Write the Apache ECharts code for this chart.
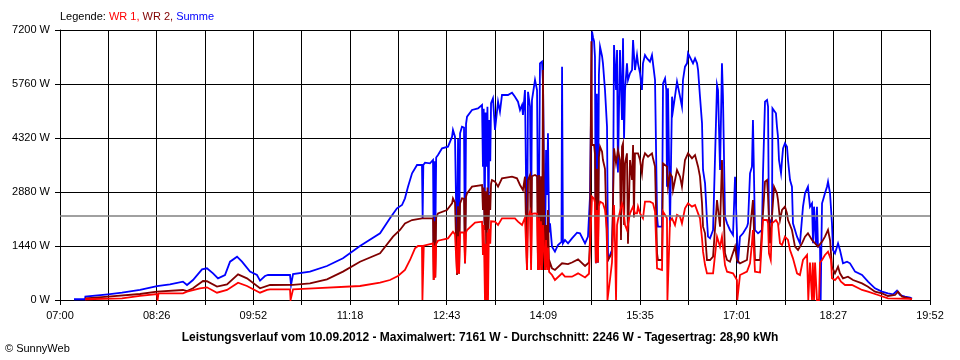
<!DOCTYPE html>
<html>
<head>
<meta charset="utf-8">
<script src="https://cdn.jsdelivr.net/npm/echarts@6/dist/echarts.min.js"></script>
<style>
html,body{margin:0;padding:0;background:#fff;}
#chart{width:960px;height:360px;}
</style>
</head>
<body>
<div id="chart"></div>
<script>
// x values: minutes after 07:00 ; y values: W
const xTickLabels = ['07:00','08:26','09:52','11:18','12:43','14:09','15:35','17:01','18:27','19:52'];
const X_MAX = 772;       // 07:00 -> 19:52
const Y_MAX = 7200;
const Y_STEP = 1440;
const AVERAGE = 2246;

const legendText = ['Legende: ', 'WR 1, ', 'WR 2, ', 'Summe'];
const footerText = 'Leistungsverlauf vom 10.09.2012 - Maximalwert: 7161 W - Durchschnitt: 2246 W - Tagesertrag: 28,90 kWh';
const copyrightText = '© SunnyWeb';

const summe = [[12.4,20],[22.2,20],[22.5,90],[42.6,150],[55.0,195],[71.0,267],[86.1,373],[97.6,418],[109.1,489],[112.7,400],[118.0,533],[126.0,818],[130.4,845],[135.8,711],[140.2,578],[146.4,667],[150.9,1022],[157.1,1156],[161.5,1022],[168.6,756],[174.8,667],[177.5,516],[181.9,640],[184.6,667],[204.1,667],[205.0,400],[206.8,693],[221.8,756],[236.9,907],[251.1,1111],[266.2,1440],[284.0,1778],[292.8,2178],[299.0,2444],[303.5,2533],[306.1,2711],[308.8,3022],[312.4,3378],[316.8,3600],[321.2,3600],[321.8,2178],[322.4,3600],[323.9,3662],[328.3,3644],[331.0,3733],[331.6,1422],[332.4,3700],[333.0,1500],[333.8,3800],[335.4,3867],[339.0,4044],[344.3,4089],[347.9,4356],[348.7,4533],[350.5,4356],[352.3,1067],[353.2,4300],[354.1,1100],[355.0,4444],[356.7,4622],[358.5,4600],[359.4,978],[360.3,4700],[361.2,4889],[365.6,5067],[370.9,5111],[374.5,5200],[375.3,3556],[376.0,5100],[376.8,2044],[377.6,5000],[378.4,3556],[379.3,5150],[380.2,2200],[381.0,4800],[381.8,3700],[382.5,5250],[383.3,5289],[384.2,5378],[386.0,4533],[388.7,5289],[390.4,5022],[392.2,5467],[397.5,5467],[401.1,5529],[403.7,5422],[406.4,5289],[408.2,5067],[410.0,5200],[410.8,4933],[412.6,5600],[413.5,5650],[414.4,1067],[415.3,5550],[417.1,5156],[418.0,1778],[418.8,5333],[421.5,5867],[423.3,5600],[424.2,2000],[425.1,2844],[425.9,6311],[427.7,6356],[428.6,5800],[430.4,1067],[431.3,4000],[432.2,2800],[433.0,4444],[434.0,1800],[434.8,2044],[436.6,1422],[439.2,1289],[441.9,1467],[445.0,1550],[445.5,6222],[446.3,1511],[448.1,1600],[450.8,1511],[454.3,1644],[458.8,1796],[461.4,1778],[465.9,1511],[468.5,1689],[470.3,2756],[472.1,7161],[473.0,7000],[473.9,6900],[474.7,6489],[475.5,978],[476.4,5500],[477.3,1000],[478.2,6000],[479.2,6756],[481.0,6500],[481.8,6311],[483.6,5600],[485.4,4622],[486.3,1067],[488.0,1100],[489.8,1333],[490.7,2311],[491.6,6800],[493.4,5600],[494.3,6667],[495.1,3400],[496.9,6667],[498.7,4800],[499.6,6978],[500.5,4300],[501.4,5600],[503.1,6311],[504.0,5867],[505.8,6044],[507.6,6133],[508.5,6933],[510.2,6133],[512.0,6533],[512.9,6311],[514.7,6044],[516.4,5600],[517.3,6311],[519.1,6533],[520.9,6444],[521.8,6489],[523.5,6356],[525.3,6533],[526.2,6311],[528.0,5867],[529.8,2222],[530.6,1956],[534.2,1956],[535.1,5778],[536.9,5911],[538.0,5600],[538.6,3022],[539.5,5644],[541.3,1956],[543.1,5422],[544.0,5067],[545.7,5422],[547.5,5822],[548.4,5778],[550.2,5422],[551.9,5156],[552.8,5867],[554.6,6222],[556.4,6311],[557.3,6578],[559.0,6533],[561.7,6311],[563.5,6444],[565.3,6311],[566.2,6133],[567.9,5422],[569.7,4711],[570.6,3467],[572.4,3111],[574.1,2133],[575.0,1689],[576.8,1644],[579.5,1867],[581.2,1911],[583.0,5733],[583.9,5600],[585.7,3467],[587.4,6311],[588.3,5422],[590.1,2222],[591.9,2044],[594.5,1867],[597.2,1733],[599.0,3289],[600.7,1778],[601.6,978],[603.4,1689],[606.1,1778],[609.6,1956],[610.5,2044],[612.3,3378],[614.0,3556],[614.9,4800],[616.7,1867],[619.4,1778],[622.9,1867],[623.8,3378],[625.6,5289],[627.4,5333],[628.3,5156],[629.1,1867],[630.0,2133],[631.8,2044],[632.2,5111],[633.6,5156],[635.3,4978],[636.2,4622],[637.1,4356],[638.0,3733],[639.8,3378],[640.7,3733],[641.6,4044],[643.3,4178],[645.1,4089],[646.0,3733],[647.8,3200],[649.5,3022],[650.4,2044],[654.0,1689],[656.6,1511],[659.3,2489],[661.1,2844],[663.7,3022],[665.5,2489],[667.3,2578],[668.2,1511],[669.1,2489],[670.8,1467],[671.7,2489],[672.6,1422],[674.4,1422],[675.0,0],[675.6,1400],[676.2,2578],[677.1,2667],[678.8,2844],[680.6,3022],[681.5,3156],[683.3,2844],[685.0,2044],[685.9,1333],[687.7,1244],[689.5,1422],[690.4,1511],[692.1,1333],[694.8,978],[698.4,1022],[701.0,978],[705.5,756],[711.7,667],[717.0,489],[723.2,311],[729.4,222],[734.7,178],[739.2,150],[742.7,249],[745.4,133],[749.8,89],[754.3,62],[756.0,40]];

const wr2 = [[22.2,45],[42.6,90],[71.0,160],[86.1,222],[109.1,267],[112.7,240],[118.0,311],[126.9,507],[130.4,500],[139.3,356],[148.2,418],[158.0,684],[165.9,578],[177.5,311],[186.4,400],[206.8,401],[221.8,444],[236.9,551],[251.1,756],[266.2,1020],[284.0,1244],[295.5,1689],[301.7,1867],[306.1,2044],[312.4,2133],[321.2,2178],[331.0,2178],[331.6,533],[332.4,2100],[333.0,600],[333.8,2200],[335.4,2311],[343.4,2400],[347.9,2578],[348.7,2711],[350.5,2600],[352.3,667],[353.2,2500],[354.1,700],[355.0,2578],[356.7,2711],[358.5,2700],[359.4,978],[360.3,2750],[361.2,2844],[365.6,3022],[374.5,3067],[375.3,2400],[376.0,3000],[376.8,1867],[377.6,2900],[378.4,800],[379.3,3000],[380.2,1867],[381.0,2800],[381.8,2400],[382.5,3100],[383.3,3200],[386.0,3156],[388.7,3022],[392.2,3244],[401.1,3289],[405.5,3244],[408.2,3067],[410.8,2933],[412.6,3289],[414.4,800],[415.3,3200],[417.1,3333],[418.0,978],[418.8,3300],[421.5,3333],[423.3,3300],[424.2,800],[425.1,3333],[425.9,1000],[426.8,3300],[427.7,800],[428.6,6133],[429.2,3000],[430.4,800],[431.3,2000],[432.2,900],[433.0,2400],[434.0,800],[434.8,1000],[436.6,844],[439.2,800],[445.5,978],[450.8,956],[454.3,1000],[459.7,1084],[461.4,1067],[465.9,907],[469.4,1000],[470.3,1600],[471.5,6900],[472.1,4133],[473.9,4133],[474.7,3900],[475.5,1000],[476.4,3500],[477.3,1000],[478.2,3800],[479.2,4089],[481.0,3956],[481.8,3733],[483.6,3500],[485.4,1422],[486.3,1067],[489.8,1244],[491.6,4044],[493.4,3644],[495.1,4000],[496.9,3733],[497.8,1600],[498.7,4089],[499.6,4178],[500.5,2000],[501.4,3644],[503.1,3911],[504.0,1500],[505.8,3733],[507.6,3200],[508.5,4133],[509.3,2200],[510.2,3911],[512.9,3911],[514.7,3733],[516.4,3378],[517.3,3733],[519.1,3911],[521.8,3822],[525.3,3911],[526.2,3778],[528.0,3556],[529.8,1244],[530.6,1067],[534.2,1067],[535.1,3644],[538.6,3556],[539.5,3022],[541.3,3378],[543.1,3289],[544.0,2933],[547.5,3467],[550.2,3289],[551.9,3022],[554.6,3733],[557.3,3911],[560.8,3778],[563.5,3867],[566.2,3556],[567.9,3289],[569.7,2578],[570.6,1956],[572.4,1778],[574.1,1067],[576.8,1067],[579.5,1156],[583.0,2667],[585.7,1956],[587.4,3733],[588.3,2933],[590.1,1244],[591.9,1067],[594.5,1022],[599.0,1422],[600.7,1067],[603.4,978],[609.6,1067],[612.3,1867],[614.9,2667],[616.7,1067],[621.2,1067],[623.8,2311],[625.6,3156],[627.4,3200],[628.3,2756],[630.0,1511],[631.8,2222],[633.6,3022],[636.2,2844],[637.1,2667],[638.9,2133],[640.7,2400],[643.3,2489],[645.1,2311],[646.0,2133],[649.5,1867],[652.2,1422],[654.9,1333],[658.4,1511],[661.1,1689],[663.7,1778],[667.3,1600],[670.0,1511],[672.6,1422],[676.2,1556],[678.8,1689],[681.5,1867],[683.3,1600],[685.0,889],[687.7,711],[690.4,889],[692.1,711],[694.8,578],[699.2,622],[703.7,533],[711.7,444],[717.0,356],[723.2,222],[729.4,178],[734.7,107],[741.0,133],[743.6,222],[747.2,89],[754.3,45],[756.0,30]];

const wr1 = [[22.2,20],[55.0,45],[55.9,90],[71.0,110],[86.1,160],[86.6,0],[87.4,178],[109.1,178],[112.7,222],[124.2,311],[130.4,338],[139.3,195],[148.2,267],[158.0,462],[165.9,373],[177.5,195],[183.7,267],[186.4,284],[204.1,284],[204.6,0],[206.0,0],[206.8,284],[224.5,311],[266.2,373],[284.0,462],[292.8,533],[299.9,640],[306.1,800],[310.6,1067],[315.0,1378],[317.7,1440],[321.2,1440],[321.6,0],[322.4,0],[322.8,1450],[331.0,1511],[331.6,533],[332.4,1450],[333.0,600],[333.8,1500],[335.4,1582],[344.3,1644],[348.7,1822],[350.5,1750],[352.3,711],[353.2,1700],[354.1,700],[355.0,1800],[356.7,1822],[358.5,1800],[359.4,978],[360.3,1800],[361.2,1867],[368.3,2062],[374.5,2089],[375.3,1200],[376.0,2000],[377.1,0],[377.6,1500],[378.4,0],[379.3,1800],[379.8,0],[380.6,1900],[381.8,1500],[382.5,2100],[383.3,2133],[386.0,2089],[388.7,2000],[392.2,2178],[403.7,2178],[406.4,2089],[410.0,2000],[412.6,2200],[414.4,800],[415.3,2200],[417.1,2356],[418.0,800],[418.8,2300],[421.5,2311],[423.3,2300],[424.2,800],[425.1,2200],[425.9,800],[426.8,2100],[427.7,800],[428.6,2000],[430.4,800],[431.3,1600],[432.2,800],[433.0,1400],[434.0,750],[436.6,667],[439.2,533],[445.5,711],[448.1,622],[454.3,622],[459.7,711],[465.9,600],[469.4,700],[470.3,1400],[472.1,2756],[473.9,2700],[474.7,2600],[475.5,978],[476.4,2400],[477.3,1000],[478.2,2500],[479.2,2622],[481.8,2578],[483.6,2400],[485.4,1867],[485.8,0],[486.8,0],[488.0,533],[489.8,1000],[491.6,2533],[492.5,1500],[493.4,0],[494.3,2000],[495.1,2133],[496.9,2356],[498.7,2578],[499.6,2489],[501.4,2000],[503.1,1867],[505.8,2311],[508.5,2489],[510.2,2311],[512.0,2311],[512.9,2489],[514.7,2311],[517.3,2178],[519.1,2622],[523.5,2622],[526.2,2578],[528.0,2356],[529.8,844],[530.6,800],[534.2,800],[535.1,2356],[538.6,2178],[539.0,0],[540.5,0],[541.3,2100],[543.1,2178],[545.7,2000],[547.5,2267],[550.2,2222],[551.9,2044],[554.6,2444],[557.3,2578],[560.8,2489],[563.5,2533],[566.2,2311],[567.9,2178],[569.7,1644],[570.6,1289],[572.4,933],[574.1,711],[579.5,711],[583.0,1689],[585.7,1422],[587.4,1689],[590.1,933],[591.9,756],[597.2,711],[600.7,533],[601.0,0],[601.8,0],[603.4,667],[609.6,756],[612.3,978],[614.0,1511],[614.9,1867],[616.7,756],[621.2,733],[623.8,2133],[627.4,2133],[628.3,2044],[629.1,1244],[630.7,1067],[631.8,2044],[635.3,2133],[637.1,2044],[638.9,1511],[640.7,1467],[643.3,1689],[646.0,1600],[647.8,1333],[650.4,1111],[654.0,711],[656.6,667],[659.3,1067],[662.9,1200],[663.7,1200],[664.0,0],[665.0,0],[665.5,1000],[667.3,0],[668.0,1000],[669.1,0],[670.0,1000],[671.7,0],[673.5,0],[674.4,1000],[676.2,1067],[678.8,1200],[681.5,1289],[684.2,1067],[685.0,578],[687.7,533],[690.4,622],[693.0,489],[696.6,400],[702.8,400],[711.7,267],[717.0,222],[725.9,133],[734.7,45],[754.3,30],[756.0,20]];

const FONT = '"Liberation Sans", Arial, sans-serif';
const DIV = X_MAX / 18;

const chart = echarts.init(document.getElementById('chart'), null, {renderer: 'canvas'});

function lineSeries(name, data, color, z) {
  return {
    name: name, type: 'line', data: data, z: z,
    showSymbol: false, symbol: 'none', animation: false,
    lineStyle: {color: color, width: 1.8, join: 'miter'},
    itemStyle: {color: color},
    emphasis: {disabled: true}
  };
}

const series = [
  lineSeries('Summe', summe, '#0000ff', 2),
  lineSeries('WR 2', wr2, '#800000', 3),
  lineSeries('WR 1', wr1, '#ff0000', 4)
];
series.push({
  type: 'line', data: [], z: 5, silent: true,
  markLine: {
    silent: true, symbol: 'none', animation: false,
    label: {show: false},
    lineStyle: {color: '#808080', width: 1.5, type: 'solid'},
    data: [{yAxis: AVERAGE}]
  }
});

chart.setOption({
  animation: false,
  backgroundColor: '#ffffff',
  textStyle: {fontFamily: FONT},
  grid: {left: 60, right: 30, top: 30, bottom: 60, show: false},
  xAxis: {
    type: 'value', min: 0, max: X_MAX, interval: DIV,
    axisLine: {show: true, lineStyle: {color: '#000', width: 1}},
    axisTick: {show: true, length: 5, lineStyle: {color: '#000'}},
    splitLine: {show: true, lineStyle: {color: '#000', width: 1}},
    axisLabel: {
      show: true, color: '#000', fontSize: 11, fontFamily: FONT, margin: 10,
      showMinLabel: true, showMaxLabel: true, hideOverlap: false,
      formatter: function (v) {
        const i = Math.round(v / DIV);
        return (i % 2 === 0) ? (xTickLabels[i / 2] || '') : '';
      }
    }
  },
  yAxis: {
    type: 'value', min: 0, max: Y_MAX, interval: Y_STEP,
    axisLine: {show: true, lineStyle: {color: '#000', width: 1}},
    axisTick: {show: true, length: 5, lineStyle: {color: '#000'}},
    splitLine: {show: true, lineStyle: {color: '#000', width: 1}},
    axisLabel: {color: '#000', fontSize: 11, fontFamily: FONT, margin: 10,
      formatter: function (v) { return String(v) + ' W'; }}
  },
  graphic: [
    {
      type: 'text', left: 60, top: 11,
      style: {
        text: '{k|' + legendText[0] + '}{a|' + legendText[1] + '}{b|' + legendText[2] + '}{c|' + legendText[3] + '}',
        font: '11px ' + FONT,
        rich: {
          k: {fill: '#000', fontSize: 11, fontFamily: FONT},
          a: {fill: '#ff0000', fontSize: 11, fontFamily: FONT},
          b: {fill: '#800000', fontSize: 11, fontFamily: FONT},
          c: {fill: '#0000ff', fontSize: 11, fontFamily: FONT}
        }
      }
    },
    {
      type: 'text', x: 480, y: 337.5,
      style: {
        text: footerText, fill: '#000', textAlign: 'center', textVerticalAlign: 'middle',
        font: 'bold 12px ' + FONT
      }
    },
    {
      type: 'text', x: 5, y: 349,
      style: {
        text: copyrightText, fill: '#000', textAlign: 'left', textVerticalAlign: 'middle',
        font: '11px ' + FONT
      }
    }
  ],
  series: series
});
</script>
</body>
</html>
